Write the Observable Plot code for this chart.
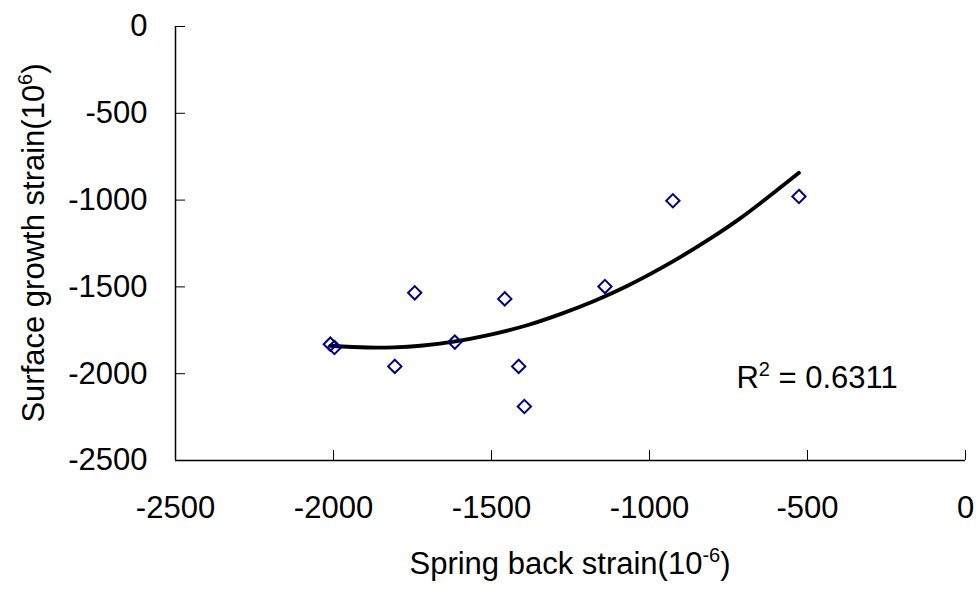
<!DOCTYPE html>
<html><head><meta charset="utf-8">
<script src="https://cdn.jsdelivr.net/npm/d3@7"></script>
<script src="https://cdn.jsdelivr.net/npm/@observablehq/plot@0.6"></script>
<style>html,body{margin:0;padding:0;background:#fff} svg{display:block}</style>
</head><body><div id="chart"></div>
<script>
// Scatter data (spring back strain vs surface growth strain, 10^-6)
const springBack    = [-2010, -1997, -1743, -1806, -1616, -1458, -1414, -1396, -1141, -926, -527];
const surfaceGrowth = [-1830, -1849, -1534, -1958, -1818, -1569, -1958, -2189, -1498, -1004, -979];
// Polynomial trend line
const trendX = [-2010, -1893, -1809, -1725, -1619, -1514, -1387, -1282, -1175, -1071, -923, -807, -712, -607, -527];
const trendY = [-1839, -1849, -1848, -1839, -1815, -1779, -1721, -1657, -1581, -1495, -1350, -1221, -1104, -958, -843];
// Tick values
const xTicks = [-2500, -2000, -1500, -1000, -500, 0];
const yTicks = [0, -500, -1000, -1500, -2000, -2500];
// Annotation
const r2Label = "R2 = 0.6311";
const r2X = -725, r2Y = -2085;

const pts = springBack.map((x, i) => ({x, y: surfaceGrowth[i]}));
const trend = trendX.map((x, i) => ({x, y: trendY[i]}));
const font = "'Liberation Sans', Arial, sans-serif";

const chart = Plot.plot({
  width: 978, height: 592,
  marginLeft: 175, marginRight: 13, marginTop: 26, marginBottom: 132,
  style: {fontFamily: font, fontSize: "31px", color: "#000", background: "#fff", overflow: "visible"},
  x: {domain: [-2500, 0]},
  y: {domain: [-2500, 0]},
  marks: [
    Plot.ruleY([-2500], {stroke: "#000", strokeWidth: 1.5}),
    Plot.ruleX([-2500], {stroke: "#000", strokeWidth: 1.5}),
    Plot.tickX(xTicks, {x: d => d, insetTop: 424, stroke: "#000", strokeWidth: 1}),
    Plot.tickY(yTicks, {y: d => d, insetRight: 780, stroke: "#000", strokeWidth: 1}),
    Plot.axisX({ticks: xTicks, tickSize: 0, tickPadding: 35, label: null, tickFormat: d => String(d), fontSize: 31}),
    Plot.axisY({ticks: yTicks, tickSize: 0, tickPadding: 28, label: null, tickFormat: d => String(d), fontSize: 31}),
    Plot.line(trend, {x: "x", y: "y", stroke: "#000", strokeWidth: 3.8, curve: "catmull-rom"}),
    Plot.dot(pts, {x: "x", y: "y", symbol: "diamond2", r: 6, stroke: "#000080", strokeWidth: 2, fill: "none"}),
    Plot.text([r2Label], {x: r2X, y: r2Y, text: d => d, textAnchor: "start", lineAnchor: "bottom", fontSize: 31, fill: "#000", className: "r2"})
  ]
});
document.getElementById("chart").appendChild(chart);

const svg = d3.select(chart);
// R² with a real superscript
const r2 = svg.select(".r2 text");
r2.text(null);
r2.append("tspan").text("R");
r2.append("tspan").attr("dy", -12).attr("font-size", 20).text("2");
r2.append("tspan").attr("dy", 12).text(" = 0.6311");
// X axis title
const xt = svg.append("text")
  .attr("x", (175 + 965) / 2).attr("y", 574)
  .attr("text-anchor", "middle")
  .attr("font-family", font).attr("font-size", 31).attr("fill", "#000");
xt.append("tspan").text("Spring back strain(10");
xt.append("tspan").attr("dy", -12).attr("font-size", 20).text("-6");
xt.append("tspan").attr("dy", 12).text(")");
// Y axis title
const yt = svg.append("text")
  .attr("transform", `translate(44,${(26 + 460) / 2}) rotate(-90)`)
  .attr("text-anchor", "middle")
  .attr("font-family", font).attr("font-size", 31).attr("fill", "#000");
yt.append("tspan").text("Surface growth strain(10");
yt.append("tspan").attr("dy", -12).attr("font-size", 20).text("6");
yt.append("tspan").attr("dy", 12).text(")");
</script>
</body></html>
